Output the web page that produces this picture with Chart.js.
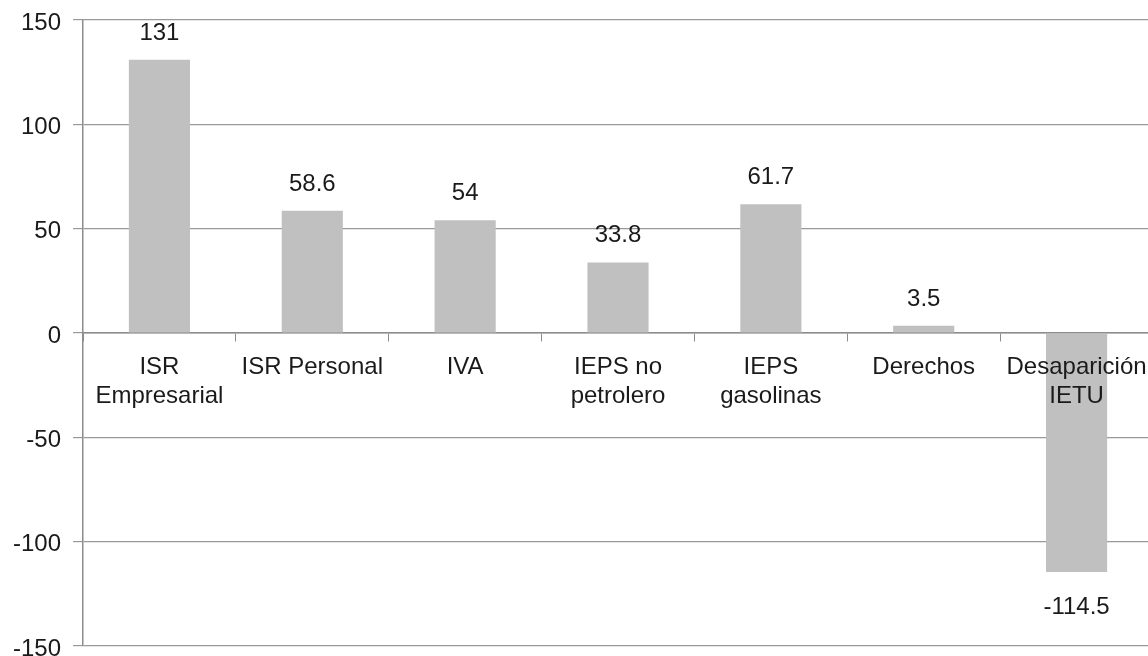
<!DOCTYPE html>
<html>
<head>
<meta charset="utf-8">
<script src="https://cdn.jsdelivr.net/npm/chart.js@4"></script>
<style>
  html, body { margin: 0; padding: 0; background: #fff; overflow: hidden; }
  #wrap { width: 1153px; height: 656px; position: relative; }
</style>
</head>
<body>
<div id="wrap"><canvas id="grafica"></canvas></div>
<script>
// Datos de la gráfica
const categorias = [
    ['ISR', 'Empresarial'],
    'ISR Personal',
    'IVA',
    ['IEPS no', 'petrolero'],
    ['IEPS', 'gasolinas'],
    'Derechos',
    ['Desaparición', 'IETU']
];
const valores = [131, 58.6, 54, 33.8, 61.7, 3.5, -114.5];
const ticksY = [-150, -100, -50, 0, 50, 100, 150];

const fuente = "'Liberation Sans', Arial, sans-serif";
const colorTexto = '#1a1a1a';

// Plugin para escribir el valor sobre / bajo cada barra
const etiquetasValor = {
    id: 'etiquetasValor',
    afterDatasetsDraw(chart) {
        const ctx = chart.ctx;
        const meta = chart.getDatasetMeta(0);
        ctx.save();
        ctx.font = '24px ' + fuente;
        ctx.fillStyle = colorTexto;
        ctx.textAlign = 'center';
        ctx.textBaseline = 'alphabetic';
        meta.data.forEach((bar, i) => {
            const v = valores[i];
            const y = v >= 0 ? bar.y - 20 : bar.y + 42;
            ctx.fillText(String(v), bar.x, y);
        });
        ctx.restore();
    }
};

// quitar el relleno automático de los ejes para fijar el área del gráfico
function sinRelleno(scale) {
    scale.paddingTop = 0;
    scale.paddingBottom = 0;
    scale.paddingLeft = 0;
    scale.paddingRight = 0;
}

new Chart(document.getElementById('grafica'), {
    type: 'bar',
    data: {
        labels: categorias,
        datasets: [{
            data: valores,
            backgroundColor: '#c0c0c0',
            borderWidth: 0,
            barPercentage: 0.4,
            categoryPercentage: 1
        }]
    },
    options: {
        responsive: true,
        maintainAspectRatio: false,
        animation: false,
        layout: { padding: { top: 20, bottom: 10, left: 0, right: 0 } },
        plugins: {
            legend: { display: false },
            tooltip: { enabled: false }
        },
        scales: {
            x: {
                position: { y: 0 },
                afterFit: sinRelleno,
                grid: {
                    offset: true,
                    drawOnChartArea: false,
                    drawTicks: true,
                    tickLength: 8,
                    color: '#8c8c8c'
                },
                border: { display: true, color: '#8c8c8c', width: 1.5 },
                ticks: {
                    z: 1,
                    color: colorTexto,
                    font: { family: fuente, size: 24, lineHeight: 1.2 },
                    padding: 12,
                    maxRotation: 0,
                    autoSkip: false
                }
            },
            y: {
                min: -150,
                max: 150,
                afterFit(scale) { scale.width = 83; sinRelleno(scale); },
                afterBuildTicks(scale) { scale.ticks = ticksY.map(v => ({ value: v })); },
                grid: {
                    color: '#999999',
                    lineWidth: 1.2,
                    tickLength: 10
                },
                border: { display: true, color: '#8c8c8c', width: 1.5 },
                ticks: {
                    color: colorTexto,
                    font: { family: fuente, size: 24 },
                    padding: 12,
                    labelOffset: 3
                }
            }
        }
    },
    plugins: [etiquetasValor]
});
</script>
</body>
</html>
